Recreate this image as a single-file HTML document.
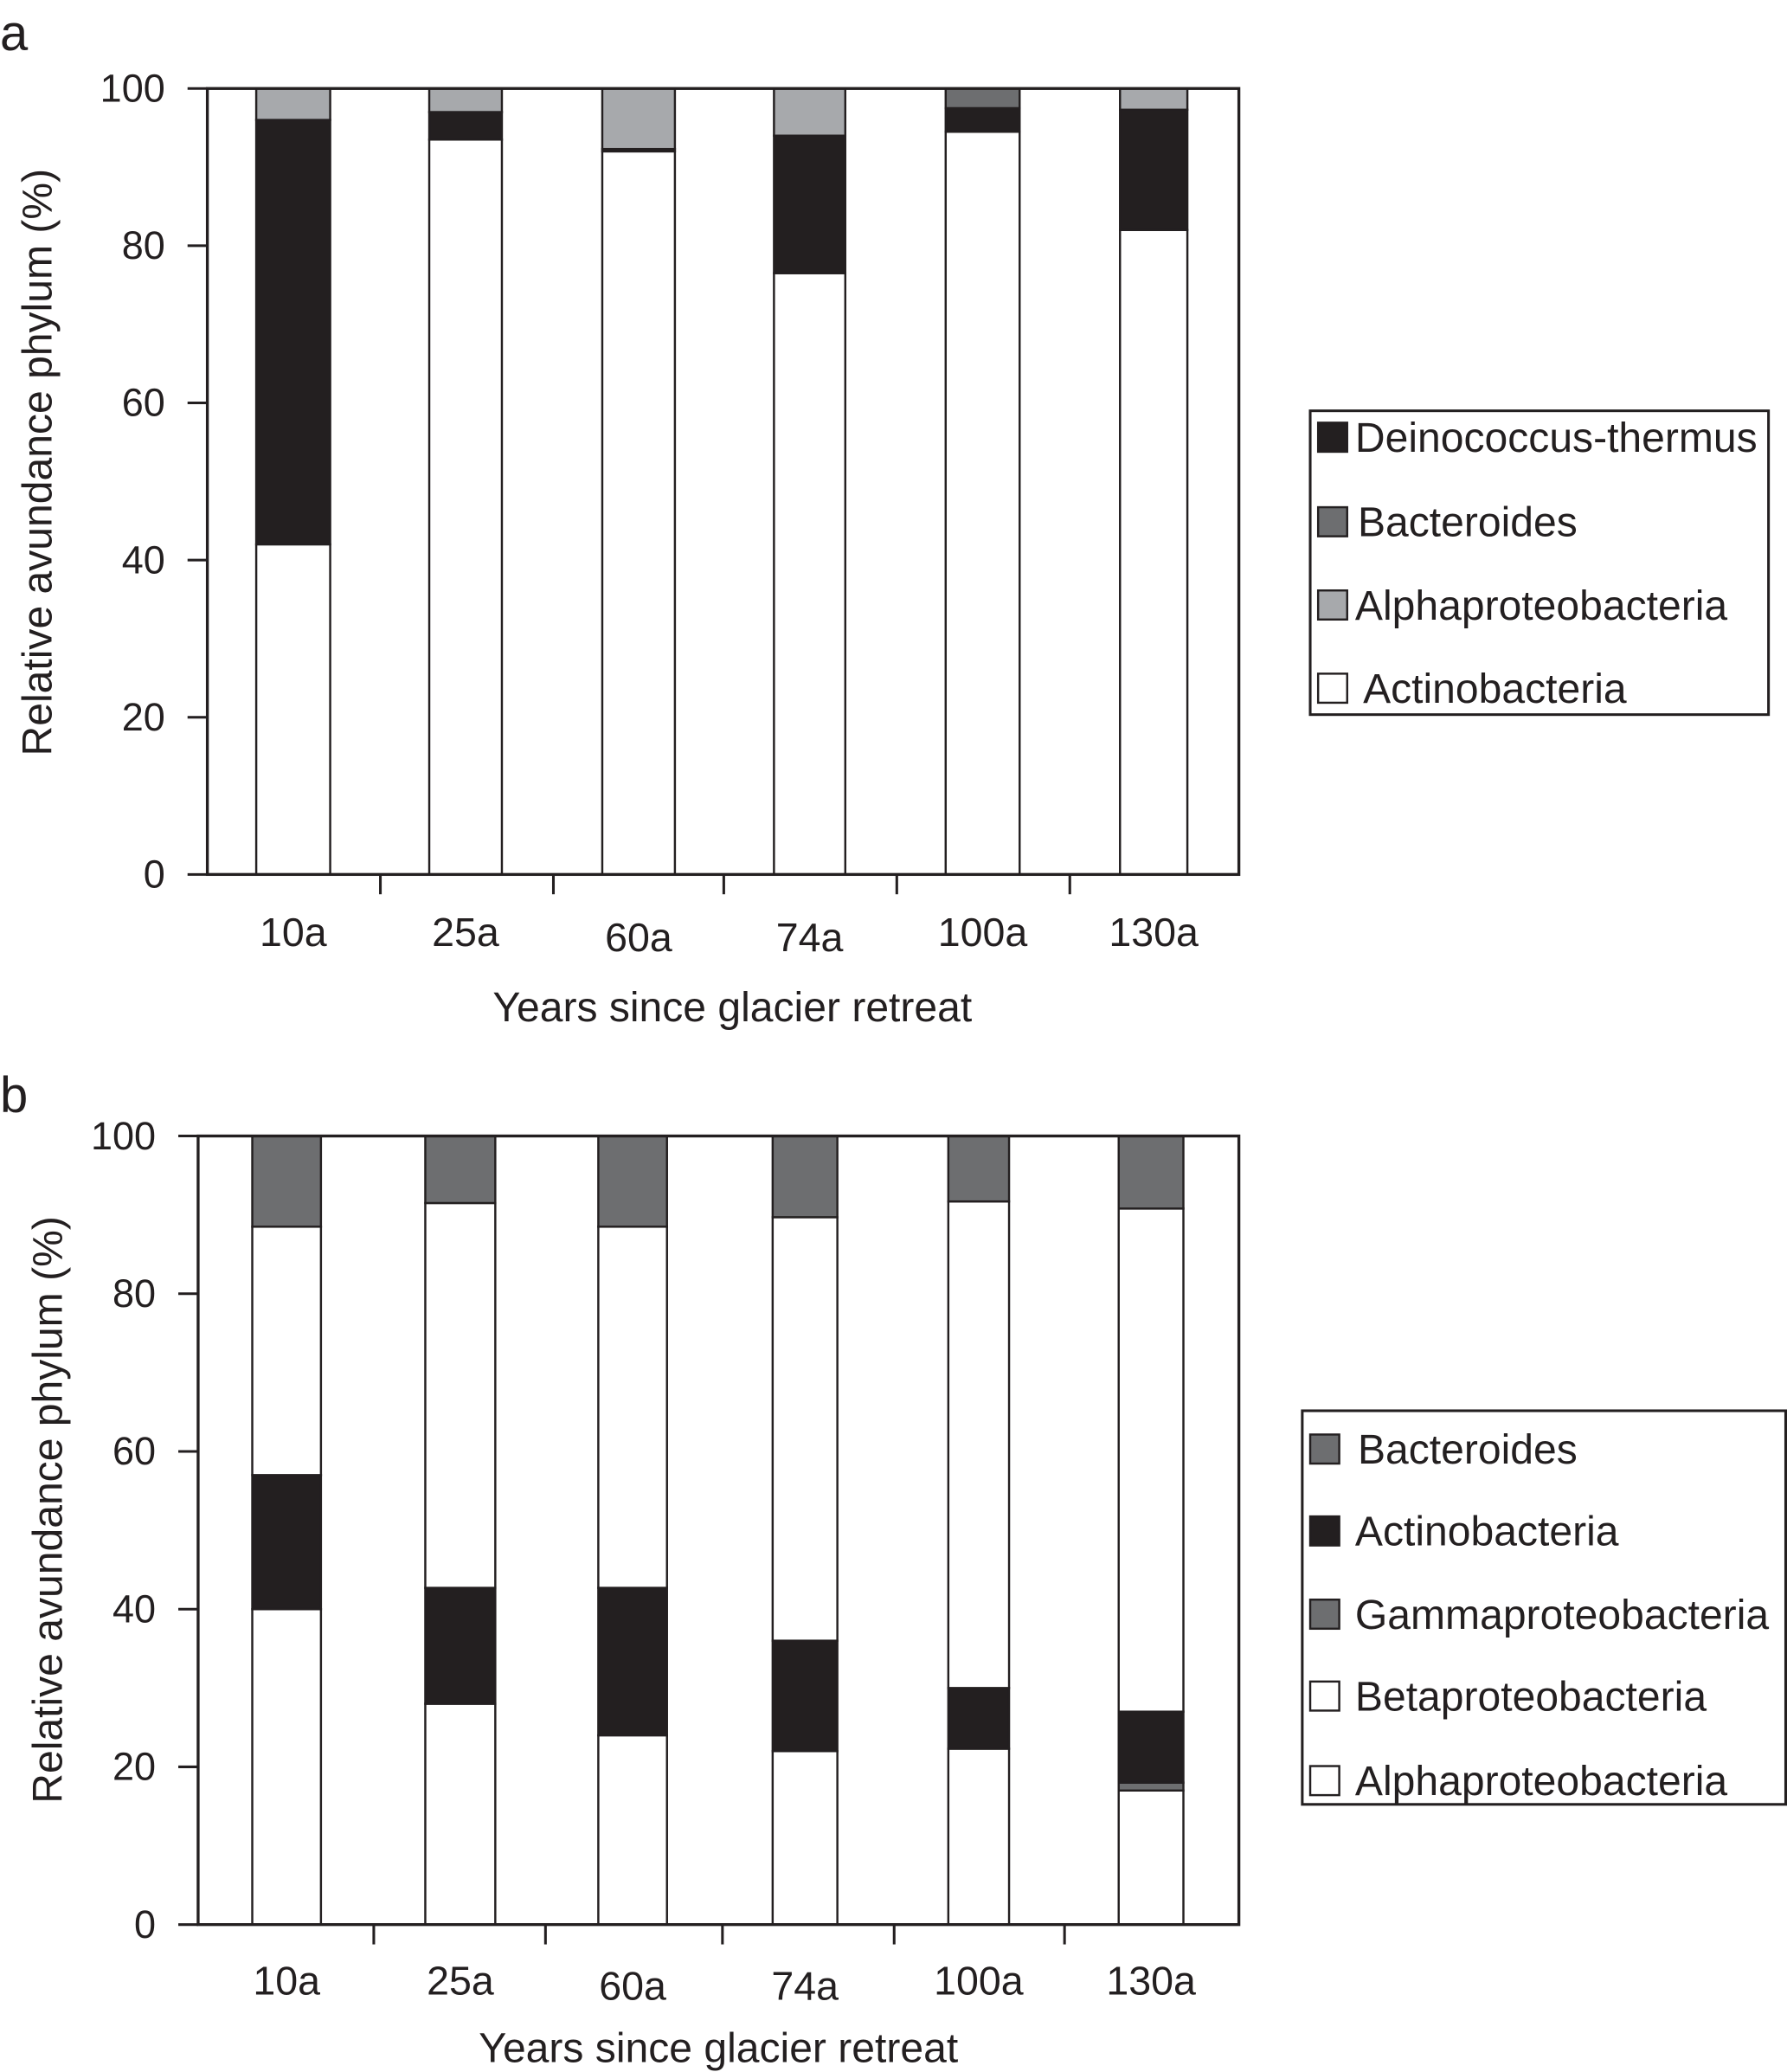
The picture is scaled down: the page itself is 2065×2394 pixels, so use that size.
<!DOCTYPE html>
<html><head><meta charset="utf-8"><style>
html,body{margin:0;padding:0;background:#fff}
svg{display:block}
text{font-family:"Liberation Sans",sans-serif;fill:#231f20}
</style></head><body>
<svg id="fig" width="2065" height="2394" viewBox="0 0 1353 1568.6" preserveAspectRatio="none" xmlns="http://www.w3.org/2000/svg">
<rect width="1353" height="1568.6" fill="#fff"/>
<text x="0" y="38" font-size="38">a</text>
<text x="0" y="842" font-size="38">b</text>
<g id="ga"></g>
<g id="gb"></g>
</svg>
<script>
const categories = ["10a","25a","60a","74a","100a","130a"];
const yTicks = [0,20,40,60,80,100];
// Panel a series (stack bottom-up)
const aActino = [42,93.5,92,76.5,94.5,82];
const aDeino = [54,3.5,0.3,17.5,3,15.3];
const aBactero = [0,0,0,0,2.5,0];
const aAlpha = [4,3,7.7,6,0,2.7];
// Panel b series (stack bottom-up)
const bAlpha = [40,28,24,22,22.3,17];
const bGamma = [0,0,0,0,0,1];
const bActino = [17,14.7,18.7,14,7.7,9];
const bBeta = [31.5,48.8,45.8,53.7,61.7,63.8];
const bBactero = [11.5,8.5,11.5,10.3,8.3,9.2];

const BLACK="#231f20", DARK="#6d6e70", LIGHT="#a7a9ac", WHITE="#ffffff";
const NS="http://www.w3.org/2000/svg";
function mk(tag,attrs,parent){const e=document.createElementNS(NS,tag);for(const k in attrs)e.setAttribute(k,attrs[k]);parent.appendChild(e);return e;}

function chart(g,cfg){
  const {L,R,T,B,barL,barW,tickX,series,legend,titleX,titleY,labY,xTitleY} = cfg;
  const y = v => B - (v/100)*(B-T);
  categories.forEach((c,i)=>{
    let acc=0;
    series.forEach(s=>{
      const v=s.vals[i];
      if(v>0){
        const r=mk('rect',{x:barL[i],y:y(acc+v),width:barW[i],height:y(acc)-y(acc+v),fill:s.color,stroke:BLACK,'stroke-width':1.6},g);
        
        
      }
      acc+=v;
    });
  });
  const box=mk('rect',{x:L,y:T,width:R-L,height:B-T,fill:'none',stroke:BLACK,'stroke-width':2.2},g);
  
  
  yTicks.forEach(t=>{
    const ln=mk('line',{x1:L-15,x2:L,y1:y(t),y2:y(t),stroke:BLACK,'stroke-width':2},g);
    
    
    const tx=mk('text',{x:L-32,y:y(t)+10,'font-size':29.5,'text-anchor':'end'},g);
    tx.textContent=t;
    
    
  });
  tickX.forEach(x=>{
    const ln=mk('line',{x1:x,x2:x,y1:B,y2:B+15,stroke:BLACK,'stroke-width':2},g);
    
    
  });
  categories.forEach((c,i)=>{
    const dy=(c==="60a"||c==="74a")?4:0;
    const tx=mk('text',{x:barL[i]+barW[i]/2,y:labY+dy,'font-size':30.5,'text-anchor':'middle'},g);
    tx.textContent=c;
    
    
  });
  const xt=mk('text',{x:(L+R)/2-(cfg.xShift||0),y:xTitleY,'font-size':31.5,'text-anchor':'middle'},g);
  xt.textContent="Years since glacier retreat";
  
  
  const yt=mk('text',{x:0,y:0,'font-size':31.5,'text-anchor':'middle',transform:`translate(${titleX},${titleY}) rotate(-90)`},g);
  yt.textContent="Relative avundance phylum (%)";
  
  
  const lb=mk('rect',{x:legend.x,y:legend.y,width:legend.w,height:legend.h,fill:'#fff',stroke:BLACK,'stroke-width':2},g);
  
  
  legend.items.forEach((it,k)=>{
    const cy=legend.rows[k];
    const sw=mk('rect',{x:legend.x+6,y:cy-11,width:22,height:22,fill:it.color,stroke:BLACK,'stroke-width':1.6},g);
    
    
    const tx=mk('text',{x:legend.x+34+(it.dx||0),y:cy+11,'font-size':31.5},g);
    tx.textContent=it.label;
    
    
  });
}

chart(document.getElementById('ga'),{
  L:157,R:938,T:67,B:662,
  barL:[194,325,456,586,716,848], barW:[56,55,55,54,56,51],
  tickX:[288,419,548,679,810],
  labY:716, xTitleY:773, titleX:39, titleY:350, xShift:-7,
  series:[
    {key:'actinobacteria',vals:aActino,color:WHITE},
    {key:'deinococcus',vals:aDeino,color:BLACK},
    {key:'bacteroides',vals:aBactero,color:DARK},
    {key:'alphaproteobacteria',vals:aAlpha,color:LIGHT}
  ],
  legend:{x:992,y:311,w:347,h:230,rows:[331,395,458,521],items:[
    {label:'Deinococcus-thermus',color:BLACK,dx:0},
    {label:'Bacteroides',color:DARK,dx:2},
    {label:'Alphaproteobacteria',color:LIGHT,dx:0},
    {label:'Actinobacteria',color:WHITE,dx:6}
  ]}
});
chart(document.getElementById('gb'),{
  L:150,R:938,T:860,B:1457,
  barL:[191,322,453,585,718,847], barW:[52,53,52,49,46,49],
  tickX:[283,413,547,677,806],
  labY:1510, xTitleY:1561, titleX:47, titleY:1143, xShift:0,
  series:[
    {key:'alphaproteobacteria',vals:bAlpha,color:WHITE},
    {key:'gammaproteobacteria',vals:bGamma,color:DARK},
    {key:'actinobacteria',vals:bActino,color:BLACK},
    {key:'betaproteobacteria',vals:bBeta,color:WHITE},
    {key:'bacteroides',vals:bBactero,color:DARK}
  ],
  legend:{x:986,y:1068,w:366,h:298,rows:[1097,1159,1222,1284,1348],items:[
    {label:'Bacteroides',color:DARK,dx:8},
    {label:'Actinobacteria',color:BLACK,dx:6},
    {label:'Gammaproteobacteria',color:DARK,dx:6},
    {label:'Betaproteobacteria',color:WHITE,dx:6},
    {label:'Alphaproteobacteria',color:WHITE,dx:6}
  ]}
});
</script>
</body></html>
